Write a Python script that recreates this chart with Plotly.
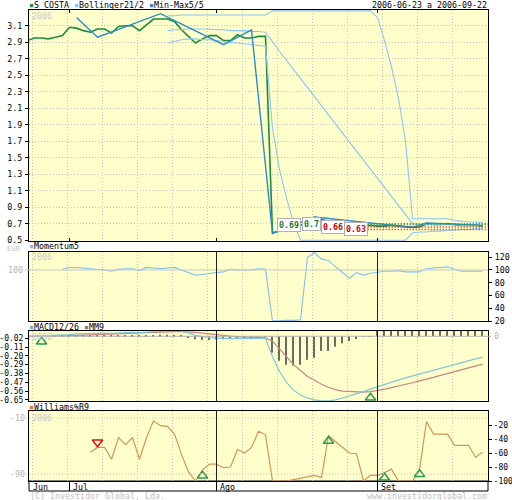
import plotly.graph_objects as go

# ---------------- data ----------------
price_days = list(range(66))
price = [2.92, 2.95, 2.95, 2.94, 2.96, 2.98, 3.08, 3.07, 3.04, 3.02,
         3.06, 3.06, 3.01, 3.09, 3.10, 3.10, 3.04, 3.11, 3.18, 3.18,
         3.18, 3.15, 3.05, 2.97, 2.89, 2.94, 2.98, 2.98, 2.92, 2.92,
         2.99, 2.95, 2.95, 2.97, 2.97, 0.59, 0.61, 0.64, 0.64, 0.68,
         0.71, 0.78, 0.75, 0.73, 0.71, 0.69, 0.68, 0.69, 0.68, 0.68,
         0.67, 0.67, 0.68, 0.67, 0.66, 0.655, 0.66, 0.70, 0.69, 0.69,
         0.70, 0.69, 0.68, 0.68, 0.68, 0.67]

boll_days = list(range(20, 66))
boll_upper = [3.22, 3.22, 3.23, 3.23, 3.23, 3.23, 3.23, 3.23, 3.23, 3.23,
              3.23, 3.23, 3.23, 3.23, 3.23, 3.28, 3.28, 3.28, 3.28, 3.28,
              3.28, 3.28, 3.28, 3.28, 3.28, 3.28, 3.28, 3.28, 3.28, 3.28,
              3.20, 2.92, 2.60, 2.22, 1.70, 0.76, 0.76, 0.76, 0.76, 0.76,
              0.76, 0.74, 0.73, 0.72, 0.72, 0.71]
boll_mid = [3.04, 3.05, 3.05, 3.06, 3.06, 3.06, 3.06, 3.05, 3.05, 3.04,
            3.04, 3.04, 3.03, 3.03, 3.02, 2.90, 2.79, 2.68, 2.57, 2.46,
            2.35, 2.24, 2.13, 2.02, 1.91, 1.80, 1.69, 1.58, 1.47, 1.36,
            1.25, 1.14, 1.03, 0.92, 0.81, 0.70, 0.69, 0.69, 0.69, 0.69,
            0.69, 0.69, 0.68, 0.68, 0.68, 0.68]
boll_lower = [2.89, 2.91, 2.93, 2.94, 2.94, 2.93, 2.93, 2.92, 2.91, 2.90,
              2.89, 2.88, 2.87, 2.86, 2.85, 1.86, 1.36, 1.01, 0.71, 0.50,
              0.50, 0.50, 0.50, 0.50, 0.50, 0.50, 0.50, 0.50, 0.50, 0.50,
              0.50, 0.50, 0.50, 0.50, 0.50, 0.59, 0.60, 0.60, 0.61, 0.61,
              0.62, 0.62, 0.63, 0.63, 0.64, 0.64]

minmax_days = [7, 10, 19, 28, 32, 35, 41, 55, 57, 65]
minmax_vals = [3.20, 2.96, 3.245, 2.87, 3.05, 0.58, 0.78, 0.655, 0.71, 0.68]

level_vals = [0.69, 0.70, 0.66, 0.63]
level_text = ["0.69", "0.7", "0.66", "0.63"]
level_kind = ["up", "up", "down", "down"]

price_ticks = [0.5, 0.7, 0.9, 1.1, 1.3, 1.5, 1.7, 1.9, 2.1, 2.3, 2.5, 2.7, 2.9, 3.1]

mom_days = list(range(5, 66))
momentum = [101, 104, 104, 103, 103, 102, 100, 98, 101, 102,
            102, 99, 104, 103, 102, 103, 104, 100, 96, 92,
            93, 95, 96, 97, 101, 100, 100, 100, 102, 101,
            20, 21, 21, 21, 22, 120, 127, 117, 115, 105,
            96, 87, 96, 92, 95, 97, 98, 98, 99, 97,
            97, 97, 102, 103, 104, 105, 101, 98, 98, 98,
            98]
mom_ticks = [20, 40, 60, 80, 100, 120]

macd_days = list(range(66))
macd = [0.000, 0.002, 0.004, 0.005, 0.007, 0.010, 0.018, 0.024, 0.027, 0.028,
        0.031, 0.033, 0.030, 0.034, 0.038, 0.040, 0.037, 0.041, 0.050, 0.056,
        0.060, 0.060, 0.052, 0.035, 0.010, -0.005, -0.015, -0.018, -0.022, -0.024,
        -0.022, -0.022, -0.022, -0.021, -0.020, -0.21, -0.36, -0.47, -0.55, -0.60,
        -0.63, -0.65, -0.66, -0.66, -0.65, -0.63, -0.61, -0.59, -0.565, -0.54,
        -0.515, -0.49, -0.465, -0.445, -0.425, -0.405, -0.385, -0.365, -0.345, -0.325,
        -0.305, -0.285, -0.265, -0.245, -0.23, -0.215]
mm9 = [0.000, 0.000, 0.001, 0.002, 0.003, 0.004, 0.007, 0.010, 0.013, 0.016,
       0.019, 0.021, 0.023, 0.025, 0.028, 0.030, 0.032, 0.033, 0.037, 0.040,
       0.044, 0.047, 0.048, 0.046, 0.040, 0.032, 0.023, 0.015, 0.008, 0.002,
       -0.003, -0.007, -0.011, -0.013, -0.015, -0.05, -0.13, -0.22, -0.29, -0.35,
       -0.41, -0.45, -0.49, -0.52, -0.545, -0.56, -0.565, -0.57, -0.57, -0.565,
       -0.555, -0.54, -0.525, -0.51, -0.495, -0.475, -0.455, -0.44, -0.42, -0.40,
       -0.38, -0.36, -0.34, -0.32, -0.30, -0.285]
hist = [0.0, 0.0, 0.002, 0.003, 0.004, 0.006, 0.011, 0.014, 0.014, 0.012,
        0.012, 0.012, 0.007, 0.009, 0.010, 0.010, 0.005, 0.008, 0.013, 0.016,
        0.016, 0.013, 0.004, -0.011, -0.030, -0.037, -0.038, -0.033, -0.030, -0.026,
        -0.019, -0.015, -0.011, -0.008, -0.005, -0.167, -0.25, -0.29, -0.30, -0.29,
        -0.24, -0.22, -0.15, -0.15, -0.106, -0.072, -0.048, -0.028, -0.007, -0.003,
        0.06, 0.06, 0.06, 0.06, 0.06, 0.06, 0.06, 0.06, 0.06, 0.06,
        0.06, 0.06, 0.06, 0.06, 0.06, 0.06]
macd_ticks = [-0.02, -0.11, -0.20, -0.29, -0.38, -0.47, -0.56, -0.65]

will_days = list(range(9, 66))
williams = [-59, -52, -52, -69, -38, -48, -38, -69, -38, -14,
            -21, -22, -33, -62, -87, -100, -84, -76, -76, -81,
            -80, -55, -60, -52, -29, -34, -100, -100, -100, -98,
            -96, -94, -92, -95, -35, -44, -52, -60, -61, -100,
            -92, -92, -88, -83, -100, -100, -100, -84, -15, -33,
            -33, -33, -49, -49, -49, -66, -59]
will_ticks = [-20, -40, -60, -80, -100]

macd_buy_days, macd_buy_y = [2, 49], [-0.055, -0.627]
macd_sell_days, macd_sell_y = [23], [0.098]
will_sell_days, will_sell_y = [10], [-44.7]
will_buy_days, will_buy_y = [25, 43, 51, 56], [-92.4, -42.9, -95.3, -90.4]

month_labels = ["Jun", "Jul", "Ago", "Set"]
month_days = [None, 6, 27, 50]

assert len(price) == len(price_days)
assert len(boll_upper) == len(boll_mid) == len(boll_lower) == len(boll_days)
assert len(momentum) == len(mom_days)
assert len(macd) == len(mm9) == len(hist) == len(macd_days)
assert len(williams) == len(will_days)

# ---------------- layout helpers ----------------
W, H = 512, 500
PL, PR, PT, PB = 29, 488, 10, 491
X0PIX, DX = 27.5, 7.0
XMIN = (PL - X0PIX) / DX
XMAX = (PR - X0PIX) / DX
FONT = "DejaVu Sans Mono"
FS = 8.3
BG = "#ffffcc"
GRID = "#c4c4c4"
DOTS = "1px,2px"

def fy(py):
    return (PB - py) / (PB - PT)

def fx(px):
    return (px - PL) / (PR - PL)

dom_main = [fy(241), 1.0]
dom_mom = [fy(321), fy(252)]
dom_macd = [fy(401), fy(331)]
dom_will = [fy(481), fy(411)]

grid_x = [0.7, 5.7, 10.7, 15.7, 20.7, 25.7, 30.7, 35.7, 40.7, 45.7, 50.7, 55.7, 60.7]

C_PRICE = "#1e8c3c"
C_BOLL = "#8cc4f4"
C_MM = "#2a8ccc"
C_MOM = "#80bff0"
C_MACD = "#80c6d6"
C_MM9 = "#c88484"
C_WILL = "#d49458"
C_GREEN = "#2a9a50"
C_RED = "#dd1111"

fig = go.Figure()

# main panel
fig.add_trace(go.Scatter(x=price_days, y=price, mode="lines", line=dict(color=C_PRICE, width=1.6),
                         xaxis="x", yaxis="y"))
for arr in (boll_upper, boll_mid, boll_lower):
    fig.add_trace(go.Scatter(x=boll_days, y=arr, mode="lines", line=dict(color=C_BOLL, width=1.1),
                             xaxis="x", yaxis="y"))
fig.add_trace(go.Scatter(x=minmax_days, y=minmax_vals, mode="lines", line=dict(color=C_MM, width=1.4),
                         xaxis="x", yaxis="y"))

# momentum
fig.add_trace(go.Scatter(x=mom_days, y=momentum, mode="lines", line=dict(color=C_MOM, width=1.1),
                         xaxis="x2", yaxis="y2"))

# macd
fig.add_trace(go.Bar(x=macd_days, y=hist, width=0.15, marker=dict(color="#6a6a6a", line=dict(width=0)),
                     xaxis="x3", yaxis="y3"))
fig.add_trace(go.Scatter(x=macd_days, y=mm9, mode="lines", line=dict(color=C_MM9, width=1.2),
                         xaxis="x3", yaxis="y3"))
fig.add_trace(go.Scatter(x=macd_days, y=macd, mode="lines", line=dict(color=C_MACD, width=1.2),
                         xaxis="x3", yaxis="y3"))
fig.add_trace(go.Scatter(x=macd_buy_days, y=macd_buy_y, mode="markers", cliponaxis=False,
                         marker=dict(symbol="triangle-up-open", size=9, color=C_GREEN, line=dict(width=1.5)),
                         xaxis="x3", yaxis="y3"))
fig.add_trace(go.Scatter(x=macd_sell_days, y=macd_sell_y, mode="markers", cliponaxis=False,
                         marker=dict(symbol="triangle-down-open", size=9, color=C_RED, line=dict(width=1.5)),
                         xaxis="x3", yaxis="y3"))

# williams
fig.add_trace(go.Scatter(x=will_days, y=williams, mode="lines", line=dict(color=C_WILL, width=1.2),
                         xaxis="x4", yaxis="y4"))
fig.add_trace(go.Scatter(x=will_sell_days, y=will_sell_y, mode="markers", cliponaxis=False,
                         marker=dict(symbol="triangle-down-open", size=9, color=C_RED, line=dict(width=1.5)),
                         xaxis="x4", yaxis="y4"))
fig.add_trace(go.Scatter(x=will_buy_days, y=will_buy_y, mode="markers", cliponaxis=False,
                         marker=dict(symbol="triangle-up-open", size=9, color=C_GREEN, line=dict(width=1.5)),
                         xaxis="x4", yaxis="y4"))

def xax(anchor):
    return dict(domain=[0, 1], range=[XMIN, XMAX], anchor=anchor, showticklabels=False,
                tickvals=grid_x, ticks="", showgrid=True, gridcolor=GRID, griddash=DOTS, gridwidth=1,
                showline=True, mirror=True, linecolor="black", linewidth=1, zeroline=False,
                fixedrange=True, automargin=False)

def yax(domain, rng, tickvals, ticktext, side="left", grid=False, fs=FS, standoff=1):
    return dict(domain=domain, range=rng, tickvals=tickvals, ticktext=ticktext, side=side,
                ticks="outside", ticklen=3, tickcolor="black", tickwidth=1,
                tickfont=dict(family=FONT, size=fs, color="black"), ticklabelstandoff=standoff,
                showgrid=grid, gridcolor=GRID, griddash=DOTS, gridwidth=1,
                showline=True, mirror=True, linecolor="black", linewidth=1, zeroline=False,
                fixedrange=True, automargin=False)

layout = dict(
    template="none",
    width=W, height=H, margin=dict(l=PL, r=W - PR, t=PT, b=H - PB, pad=0, autoexpand=False),
    paper_bgcolor="white", plot_bgcolor=BG, showlegend=False,
    xaxis=xax("y"), xaxis2=xax("y2"), xaxis3=xax("y3"), xaxis4=xax("y4"),
    yaxis=yax(dom_main, [0.49, 3.29], price_ticks, ["%g" % v for v in price_ticks], grid=True),
    yaxis2=yax(dom_mom, [20, 128.2], mom_ticks, [str(v) for v in mom_ticks], side="right"),
    yaxis3=yax(dom_macd, [-0.661, 0.054], macd_ticks, ["%.2f" % v for v in macd_ticks],
               fs=8, standoff=0),
    yaxis4=yax(dom_will, [-100, 0], will_ticks, [str(v) for v in will_ticks], side="right",
               fs=8, standoff=0),
)
layout["xaxis2"]["matches"] = "x"
layout["xaxis3"]["matches"] = "x"
layout["xaxis4"]["matches"] = "x"
fig.update_layout(**layout)

shapes = []
# reference lines
shapes.append(dict(type="line", xref="paper", yref="y2", x0=fx(25), x1=1, y0=100, y1=100,
                   line=dict(color="#c8c8c8", width=1)))
shapes.append(dict(type="line", xref="paper", yref="y3", x0=0, x1=fx(491), y0=0, y1=0,
                   line=dict(color="#b4b4b4", width=1)))
for v in (-10, -90):
    shapes.append(dict(type="line", xref="paper", yref="y4", x0=fx(26), x1=1, y0=v, y1=v,
                       line=dict(color=GRID, width=1, dash=DOTS)))
# month separators
for d in month_days[2:]:
    for xr, yr in (("x2", "y2 domain"), ("x3", "y3 domain"), ("x4", "y4 domain")):
        shapes.append(dict(type="line", xref=xr, yref=yr, x0=d, x1=d, y0=0, y1=1,
                           line=dict(color="#202020", width=1)))
for d in month_days[1:]:
    shapes.append(dict(type="line", xref="x", yref="paper", x0=d, x1=d, y0=0, y1=fy(481),
                       line=dict(color="black", width=1)))
    shapes.append(dict(type="line", xref="x", yref="y domain", x0=d, x1=d, y0=0, y1=3 / 231,
                       line=dict(color="black", width=1)))
    shapes.append(dict(type="line", xref="x", yref="y domain", x0=d, x1=d, y0=1 - 3 / 231, y1=1,
                       line=dict(color="black", width=1)))
# date strip box
shapes.append(dict(type="rect", xref="paper", yref="paper", x0=0, x1=1, y0=0, y1=fy(481),
                   line=dict(color="black", width=1), fillcolor="white", layer="below"))
# support / resistance levels
for v, k in zip(level_vals, level_kind):
    shapes.append(dict(type="line", xref="x", yref="y", x0=45.6, x1=XMAX, y0=v, y1=v,
                       line=dict(color=C_GREEN if k == "up" else C_RED, width=1.5, dash=DOTS)))
fig.update_layout(shapes=shapes)

anns = []

def ann(text, px, py, xanchor="left", color="black", size=FS, **kw):
    anns.append(dict(text=text, x=fx(px), y=fy(py), xref="paper", yref="paper", xanchor=xanchor,
                     yanchor="middle", showarrow=False, font=dict(family=FONT, size=size, color=color), **kw))

sq = lambda c: '<span style="color:%s">▪</span>' % c
ann(sq(C_PRICE) + "S COSTA " + sq(C_BOLL) + "Bollinger21/2 " + sq(C_MM) + "Min-Max5/5", 27, 5)
ann("2006-06-23 a 2006-09-22", 489, 5, xanchor="right")
ann("EUR", 22, 248.5, xanchor="right", color="#c8c8c8", size=7)
ann(sq(C_MOM) + "Momentum5", 27, 245.5)
ann(sq("#66b8b8") + "MACD12/26 " + sq("#b07070") + "MM9", 27, 326.5)
ann(sq("#c8803c") + "Williams%R9", 27, 406.5)
for py in (15.5, 256.5, 336.5, 417.5):
    ann("2006", 30, py, color="#c8c8c8")
ann("100", 24.5, 270, xanchor="right", color="#b4b4b4")
ann("0", 492, 336, color="#b4b4b4")
ann("-10", 26.5, 418, xanchor="right", color="#b4b4b4")
ann("-90", 26.5, 474, xanchor="right", color="#b4b4b4")
ann("(C) Investidor Global, Lda.", 28, 495.5, color="#c0c0c0")
ann("www.investidorglobal.com", 489, 495.5, xanchor="right", color="#c0c0c0")
month_px = [31, 71, 218, 379]
for lab, px in zip(month_labels, month_px):
    ann(lab, px, 486.5)
label_x = [37.36, 40.5, 43.7, 46.9]
for t, v, k, lx in zip(level_text, level_vals, level_kind, label_x):
    anns.append(dict(text="<b>%s</b>" % t, x=lx, y=v, xref="x", yref="y", showarrow=False,
                     font=dict(family=FONT, size=FS, color="#1e7a3c" if k == "up" else "#cc0000"),
                     bgcolor="white", bordercolor="#b0b0b0", borderwidth=1, borderpad=1))
fig.update_layout(annotations=anns)

fig.write_html("out.html", config={"displayModeBar": False},
               post_script="document.body.style.margin='0';document.body.style.overflow='hidden';")
